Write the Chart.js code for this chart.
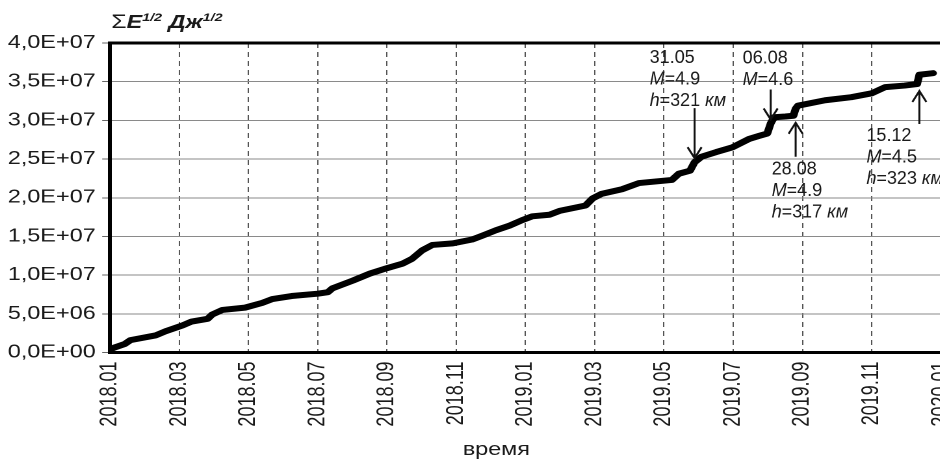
<!DOCTYPE html>
<html>
<head>
<meta charset="utf-8">
<script src="https://cdn.jsdelivr.net/npm/chart.js@4.4.1/dist/chart.umd.min.js"></script>
<style>
  html, body { margin: 0; padding: 0; background: #fff; overflow: hidden; width: 940px; height: 463px; }
  #wrap { position: absolute; left: 0; top: 0; transform: scaleX(1.3); transform-origin: 0 0; }
  canvas { display: block; }
</style>
</head>
<body>
<div id="wrap"><canvas id="chart" width="760" height="463"></canvas></div>
<script>
// Cumulative sum of sqrt(E), J^1/2 — dates of readings and running totals (millions)
const dates = [
  '2018-01-01','2018-01-06','2018-01-14','2018-01-19','2018-02-10','2018-02-19',
  '2018-03-06','2018-03-14','2018-03-28','2018-04-01','2018-04-10','2018-04-30',
  '2018-05-15','2018-05-24','2018-06-10','2018-07-03','2018-07-12','2018-07-16',
  '2018-08-03','2018-08-18','2018-09-02','2018-09-16','2018-09-24','2018-10-03',
  '2018-10-12','2018-10-30','2018-11-16','2018-11-25','2018-12-07','2018-12-19',
  '2018-12-30','2019-01-08','2019-01-23','2019-02-01','2019-02-24','2019-03-02',
  '2019-03-10','2019-03-28','2019-04-12','2019-05-11','2019-05-17','2019-05-27',
  '2019-05-31','2019-06-06','2019-06-19','2019-07-03','2019-07-18','2019-07-27',
  '2019-08-03','2019-08-06','2019-08-09','2019-08-19','2019-08-26','2019-08-28',
  '2019-08-30','2019-09-23','2019-10-16','2019-11-03','2019-11-15','2019-12-02',
  '2019-12-13','2019-12-15','2019-12-27'
];
const sumSqrtE_mln = [
  0.4, 0.7, 1.1, 1.6, 2.2, 2.75,
  3.5, 4.0, 4.35, 4.9, 5.5, 5.8,
  6.4, 6.9, 7.3, 7.6, 7.8, 8.3,
  9.3, 10.2, 10.9, 11.5, 12.1, 13.2,
  13.9, 14.1, 14.6, 15.1, 15.8, 16.4,
  17.1, 17.6, 17.8, 18.3, 19.0, 19.9,
  20.5, 21.1, 21.9, 22.3, 23.1, 23.5,
  24.6, 25.3, 25.9, 26.5, 27.6, 28.0,
  28.3, 29.6, 30.4, 30.5, 30.6, 31.5,
  31.9, 32.6, 33.0, 33.5, 34.3, 34.5,
  34.7, 35.9, 36.1
];

// Axis ticks: time axis in 61-day steps from 2018-01-01
const xTickLabels = ['2018.01','2018.03','2018.05','2018.07','2018.09','2018.11',
                     '2019.01','2019.03','2019.05','2019.07','2019.09','2019.11','2020.01'];
const TICK_STEP_DAYS = 61;
const yTickValues = [0, 5e6, 1e7, 1.5e7, 2e7, 2.5e7, 3e7, 3.5e7, 4e7];

// Marked strong events
const noteDates = ['2019-05-31', '2019-08-06', '2019-08-28', '2019-12-15'];
const noteLabels = ['31.05', '06.08', '28.08', '15.12'];
const noteM = [4.9, 4.6, 4.9, 4.5];
const noteDepthKm = [321, null, 317, 323];
const noteDir = ['down', 'down', 'up', 'up'];

// ---- drawing ----
const STRETCH = 1.3;            // horizontal stretch applied to the canvas box
const FONT = '"Liberation Sans", Arial, sans-serif';
const DAY0 = Date.UTC(2018, 0, 1);
const toDay = s => {
  const [y, m, d] = s.split('-').map(Number);
  return Math.round((Date.UTC(y, m - 1, d) - DAY0) / 864e5);
};
const points = dates.map((d, i) => ({ x: toDay(d), y: sumSqrtE_mln[i] * 1e6 }));

function sciLabel(v) {
  if (v === 0) return '0,0E+00';
  const e = Math.floor(Math.log10(v) + 1e-9);
  const m = v / Math.pow(10, e);
  return m.toFixed(1).replace('.', ',') + 'E+' + String(e).padStart(2, '0');
}

function drawRuns(ctx, runs, x, y) {
  for (const r of runs) {
    ctx.font = r.font;
    ctx.fillText(r.t, x, y + (r.dy || 0));
    x += ctx.measureText(r.t).width;
  }
}

const noteLayout = [
  { len: 50, dx: -45, dy: -45 },
  { len: 30, dx: -28, dy: -26 },
  { len: 34, dx: -24, dy: 18 },
  { len: 33, dx: -53, dy: 17 }
];

const decorations = {
  id: 'decorations',
  beforeDraw(chart) {
    const ctx = chart.ctx;
    ctx.save();
    ctx.fillStyle = '#fff';
    ctx.fillRect(0, 0, chart.width, chart.height);
    ctx.restore();
  },
  afterDraw(chart) {
    const { ctx, chartArea: a, scales: { x, y } } = chart;
    ctx.save();
    // upper frame line
    ctx.strokeStyle = '#000';
    ctx.lineWidth = 3;
    ctx.beginPath();
    ctx.moveTo(a.left - 1.5, a.top);
    ctx.lineTo(chart.width, a.top);
    ctx.stroke();

    // value axis title
    ctx.fillStyle = '#1a1a1a';
    ctx.textBaseline = 'alphabetic';
    ctx.textAlign = 'left';
    const big = 'bold italic 18px ' + FONT;
    const sup = 'bold italic 11px ' + FONT;
    drawRuns(ctx, [
      { t: '\u03A3', font: '19px ' + FONT },
      { t: 'E', font: big },
      { t: '1/2', font: sup, dy: -7 },
      { t: ' ', font: big },
      { t: 'Дж', font: big },
      { t: '1/2', font: sup, dy: -7 }
    ], a.left + 1, a.top - 15);

    // time axis title
    ctx.font = '18px ' + FONT;
    ctx.textAlign = 'center';
    ctx.fillText('время', a.left + (a.right - a.left) * 0.465, chart.height - 8);
    ctx.restore();

    // event notes, drawn in unstretched screen units
    ctx.save();
    ctx.scale(1 / STRETCH, 1);
    ctx.strokeStyle = '#111';
    ctx.fillStyle = '#1a1a1a';
    ctx.lineWidth = 2;
    ctx.textAlign = 'left';
    const norm = '18px ' + FONT, ital = 'italic 18px ' + FONT;
    noteDates.forEach((d, i) => {
      const day = toDay(d);
      const idx = points.findIndex(p => p.x === day);
      const L = noteLayout[i];
      const sx = x.getPixelForValue(day) * STRETCH;
      let tip, tail;
      if (noteDir[i] === 'down') {
        tip = y.getPixelForValue(points[idx].y) - 4;
        tail = tip - L.len;
      } else {
        tip = y.getPixelForValue(points[idx - 1].y) + 7;
        tail = tip + L.len;
      }
      const s = noteDir[i] === 'down' ? -1 : 1;
      ctx.beginPath();
      ctx.moveTo(sx, tail);
      ctx.lineTo(sx, tip);
      ctx.moveTo(sx - 7, tip + s * 11);
      ctx.lineTo(sx, tip);
      ctx.lineTo(sx + 7, tip + s * 11);
      ctx.stroke();

      const tx = sx + L.dx;
      let ty = tail + L.dy;
      drawRuns(ctx, [{ t: noteLabels[i], font: norm }], tx, ty);
      ty += 21.5;
      drawRuns(ctx, [{ t: 'M', font: ital }, { t: '=' + noteM[i], font: norm }], tx, ty);
      if (noteDepthKm[i] !== null) {
        ty += 21.5;
        drawRuns(ctx, [{ t: 'h', font: ital }, { t: '=' + noteDepthKm[i] + ' ', font: norm },
                       { t: 'км', font: ital }], tx, ty);
      }
    });
    ctx.restore();
  }
};

new Chart(document.getElementById('chart'), {
  type: 'line',
  data: {
    datasets: [{
      data: points,
      borderColor: '#000',
      borderWidth: 6,
      pointRadius: 0,
      tension: 0,
      borderJoinStyle: 'round',
      borderCapStyle: 'round'
    }]
  },
  options: {
    responsive: false,
    animation: false,
    devicePixelRatio: 2,
    layout: { autoPadding: false, padding: { top: 43, right: 36.2, bottom: 0, left: 0 } },
    plugins: { legend: { display: false }, tooltip: { enabled: false } },
    scales: {
      x: {
        type: 'linear',
        min: 0,
        max: TICK_STEP_DAYS * (xTickLabels.length - 1),
        afterBuildTicks: s => { s.ticks = xTickLabels.map((_, i) => ({ value: i * TICK_STEP_DAYS })); },
        afterFit: s => { s.height = 110.5; },
        grid: { color: '#555', lineWidth: 1, drawTicks: false },
        border: { display: true, color: '#000', width: 3, dash: [5, 4] },
        ticks: {
          autoSkip: false, maxRotation: 90, minRotation: 90, padding: 9,
          color: '#1a1a1a', font: { family: FONT, size: 18 },
          callback: (v, i) => xTickLabels[i]
        }
      },
      y: {
        min: 0,
        max: 4e7,
        afterBuildTicks: s => { s.ticks = yTickValues.map(v => ({ value: v })); },
        afterFit: s => { s.width = 84.6; },
        grid: { color: '#8a8a8a', lineWidth: 1, tickLength: 6, tickColor: '#666' },
        border: { display: true, color: '#000', width: 3 },
        ticks: {
          padding: 5, color: '#1a1a1a', font: { family: FONT, size: 18 },
          callback: v => sciLabel(v)
        }
      }
    }
  },
  plugins: [decorations]
});
</script>
</body>
</html>
